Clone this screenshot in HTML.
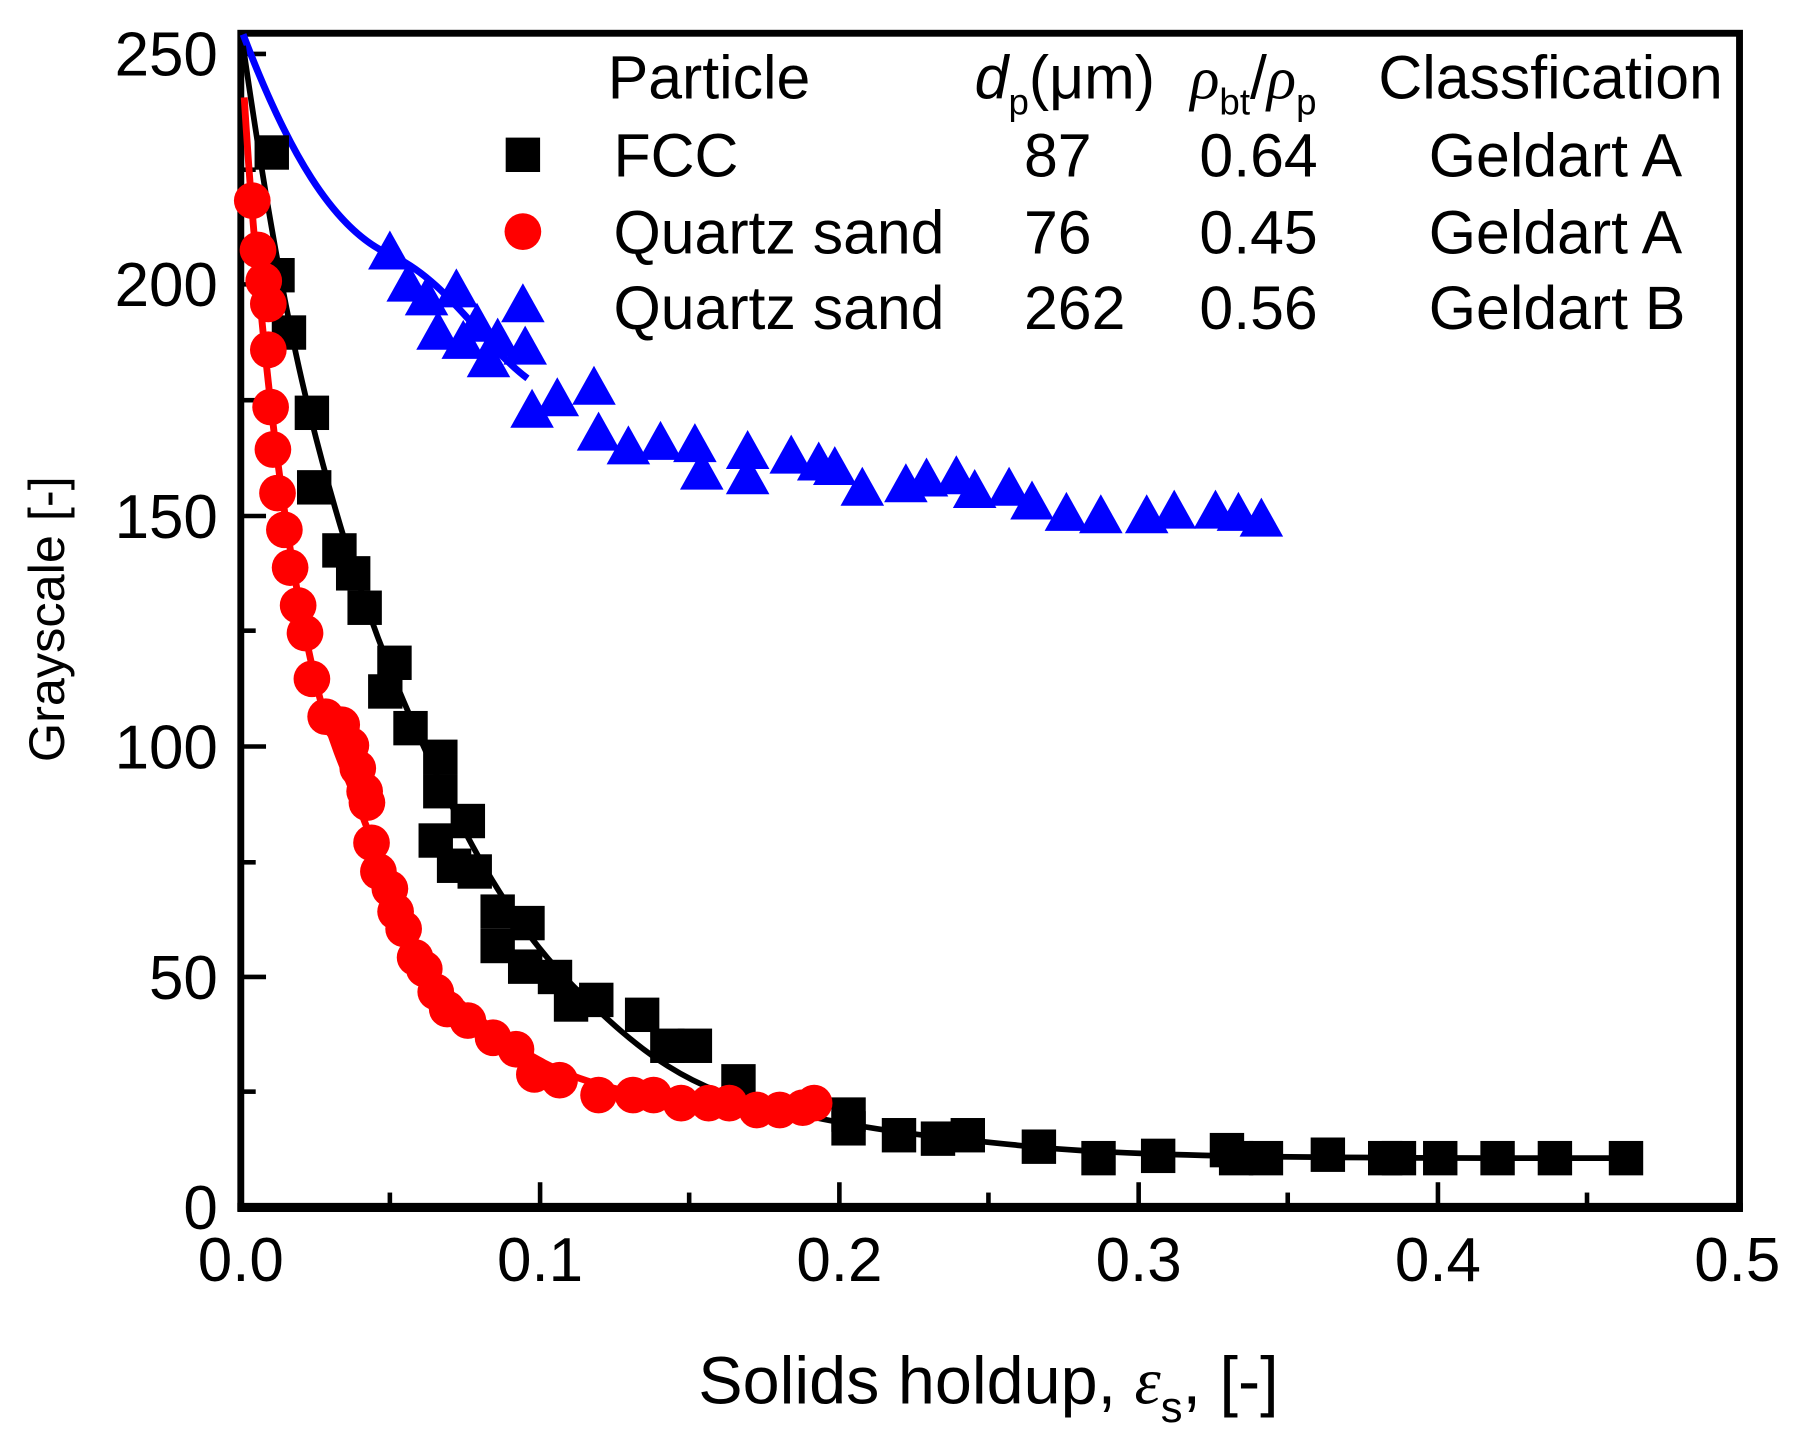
<!DOCTYPE html>
<html><head><meta charset="utf-8"><style>html,body{margin:0;padding:0;background:#fff}svg{display:block}</style></head><body>
<svg width="1798" height="1454" viewBox="0 0 1568 1268" xmlns="http://www.w3.org/2000/svg" font-family="Liberation Sans, sans-serif">
<defs>
<rect id="sq" x="-15" y="-15" width="30" height="30" fill="#000"/>
<circle id="ci" r="16" fill="#f00"/>
<polygon id="tr" points="0,-21 19,13 -19,13" fill="#00f"/>
</defs>
<rect x="210" y="29" width="1307" height="1024" fill="none" stroke="#000" stroke-width="6"/>
<line x1="207" y1="1053" x2="1520" y2="1053" stroke="#000" stroke-width="8"/>
<g stroke="#000" stroke-width="4">
<line x1="471" y1="1053" x2="471" y2="1031"/><line x1="732" y1="1053" x2="732" y2="1031"/><line x1="993" y1="1053" x2="993" y2="1031"/><line x1="1254" y1="1053" x2="1254" y2="1031"/>
<line x1="340" y1="1053" x2="340" y2="1040"/><line x1="601" y1="1053" x2="601" y2="1040"/><line x1="862" y1="1053" x2="862" y2="1040"/><line x1="1123" y1="1053" x2="1123" y2="1040"/><line x1="1384" y1="1053" x2="1384" y2="1040"/>
<line x1="210" y1="852" x2="232" y2="852"/><line x1="210" y1="651" x2="232" y2="651"/><line x1="210" y1="450" x2="232" y2="450"/><line x1="210" y1="248" x2="232" y2="248"/><line x1="210" y1="47" x2="232" y2="47"/>
<line x1="210" y1="952" x2="223" y2="952"/><line x1="210" y1="752" x2="223" y2="752"/><line x1="210" y1="550" x2="223" y2="550"/><line x1="210" y1="349" x2="223" y2="349"/><line x1="210" y1="148" x2="223" y2="148"/>
</g>
<g font-size="54" text-anchor="end">
<text x="190" y="1072">0</text><text x="190" y="871">50</text><text x="190" y="670">100</text><text x="190" y="469">150</text><text x="190" y="267">200</text><text x="190" y="66">250</text>
</g>
<g font-size="54" text-anchor="middle">
<text x="210" y="1117">0.0</text><text x="471" y="1117">0.1</text><text x="732" y="1117">0.2</text><text x="993" y="1117">0.3</text><text x="1254" y="1117">0.4</text><text x="1515" y="1117">0.5</text>
</g>
<text transform="translate(56,540) rotate(-90)" font-size="44" text-anchor="middle">Grayscale [-]</text>
<text x="862" y="1224" font-size="58" text-anchor="middle">Solids holdup, <tspan font-family="Liberation Serif, serif" font-style="italic">ε</tspan><tspan font-size="38" dy="16">s</tspan><tspan dy="-16">, [-]</tspan></text>
<path d="M212,30 C250,130 290,200 340,222 S420,300 460,330" fill="none" stroke="#00f" stroke-width="6"/>
<path d="M212,40 C225,130 245,260 270,360 S320,540 360,630 S440,800 500,860 S600,950 680,968 S800,990 900,1000 S1200,1010 1420,1010" fill="none" stroke="#000" stroke-width="5"/>
<path d="M213,85 C220,200 235,380 260,520 S300,660 330,750 S380,860 440,905 S560,960 700,966" fill="none" stroke="#f00" stroke-width="6"/>
<g>
<use href="#tr" x="340" y="222"/><use href="#tr" x="356" y="250"/><use href="#tr" x="372" y="262"/><use href="#tr" x="398" y="255"/><use href="#tr" x="382" y="292"/><use href="#tr" x="416" y="285"/><use href="#tr" x="404" y="300"/><use href="#tr" x="434" y="298"/><use href="#tr" x="426" y="316"/><use href="#tr" x="458" y="305"/><use href="#tr" x="464" y="360"/><use href="#tr" x="486" y="350"/><use href="#tr" x="518" y="340"/><use href="#tr" x="522" y="380"/><use href="#tr" x="548" y="392"/><use href="#tr" x="576" y="388"/><use href="#tr" x="606" y="390"/><use href="#tr" x="612" y="414"/><use href="#tr" x="652" y="396"/><use href="#tr" x="652" y="418"/><use href="#tr" x="690" y="400"/><use href="#tr" x="714" y="406"/><use href="#tr" x="728" y="410"/><use href="#tr" x="752" y="428"/><use href="#tr" x="790" y="425"/><use href="#tr" x="808" y="420"/><use href="#tr" x="834" y="418"/><use href="#tr" x="850" y="430"/><use href="#tr" x="880" y="428"/><use href="#tr" x="900" y="440"/><use href="#tr" x="930" y="450"/><use href="#tr" x="960" y="452"/><use href="#tr" x="1000" y="452"/><use href="#tr" x="1024" y="448"/><use href="#tr" x="1060" y="448"/><use href="#tr" x="1080" y="450"/><use href="#tr" x="1100" y="455"/>
</g>
<g>
<use href="#sq" x="237" y="133"/><use href="#sq" x="242" y="240"/><use href="#sq" x="252" y="290"/><use href="#sq" x="272" y="360"/><use href="#sq" x="274" y="425"/><use href="#sq" x="296" y="480"/><use href="#sq" x="308" y="500"/><use href="#sq" x="318" y="530"/><use href="#sq" x="344" y="578"/><use href="#sq" x="336" y="603"/><use href="#sq" x="358" y="635"/><use href="#sq" x="384" y="660"/><use href="#sq" x="384" y="690"/><use href="#sq" x="380" y="733"/><use href="#sq" x="408" y="716"/><use href="#sq" x="396" y="755"/><use href="#sq" x="414" y="760"/><use href="#sq" x="434" y="795"/><use href="#sq" x="434" y="825"/><use href="#sq" x="460" y="805"/><use href="#sq" x="458" y="843"/><use href="#sq" x="484" y="852"/><use href="#sq" x="498" y="876"/><use href="#sq" x="520" y="872"/><use href="#sq" x="560" y="885"/><use href="#sq" x="582" y="912"/><use href="#sq" x="606" y="912"/><use href="#sq" x="644" y="943"/><use href="#sq" x="740" y="972"/><use href="#sq" x="740" y="984"/><use href="#sq" x="784" y="990"/><use href="#sq" x="818" y="993"/><use href="#sq" x="844" y="990"/><use href="#sq" x="906" y="1000"/><use href="#sq" x="958" y="1010"/><use href="#sq" x="1010" y="1008"/><use href="#sq" x="1070" y="1003"/><use href="#sq" x="1078" y="1010"/><use href="#sq" x="1104" y="1010"/><use href="#sq" x="1158" y="1007"/><use href="#sq" x="1208" y="1010"/><use href="#sq" x="1220" y="1010"/><use href="#sq" x="1256" y="1010"/><use href="#sq" x="1306" y="1010"/><use href="#sq" x="1356" y="1010"/><use href="#sq" x="1418" y="1010"/>
</g>
<g>
<use href="#ci" x="220" y="175"/><use href="#ci" x="225" y="218"/><use href="#ci" x="230" y="245"/><use href="#ci" x="234" y="265"/><use href="#ci" x="234" y="305"/><use href="#ci" x="236" y="355"/><use href="#ci" x="238" y="392"/><use href="#ci" x="242" y="430"/><use href="#ci" x="248" y="462"/><use href="#ci" x="253" y="495"/><use href="#ci" x="260" y="528"/><use href="#ci" x="266" y="552"/><use href="#ci" x="272" y="592"/><use href="#ci" x="284" y="625"/><use href="#ci" x="298" y="632"/><use href="#ci" x="306" y="650"/><use href="#ci" x="312" y="670"/><use href="#ci" x="318" y="690"/><use href="#ci" x="320" y="700"/><use href="#ci" x="324" y="735"/><use href="#ci" x="330" y="760"/><use href="#ci" x="340" y="775"/><use href="#ci" x="345" y="795"/><use href="#ci" x="352" y="810"/><use href="#ci" x="362" y="835"/><use href="#ci" x="370" y="845"/><use href="#ci" x="380" y="865"/><use href="#ci" x="390" y="880"/><use href="#ci" x="408" y="890"/><use href="#ci" x="430" y="905"/><use href="#ci" x="450" y="915"/><use href="#ci" x="466" y="937"/><use href="#ci" x="488" y="942"/><use href="#ci" x="522" y="955"/><use href="#ci" x="552" y="955"/><use href="#ci" x="570" y="955"/><use href="#ci" x="594" y="962"/><use href="#ci" x="618" y="962"/><use href="#ci" x="636" y="962"/><use href="#ci" x="660" y="968"/><use href="#ci" x="680" y="968"/><use href="#ci" x="700" y="966"/><use href="#ci" x="710" y="962"/>
</g>
<g font-size="53">
<text x="530" y="86">Particle</text>
<text x="850" y="86"><tspan font-style="italic">d</tspan><tspan font-size="32" dy="14">p</tspan><tspan dy="-14">(μm)</tspan></text>
<text x="1038" y="86"><tspan font-family="Liberation Serif, serif" font-style="italic">ρ</tspan><tspan font-size="32" dy="14">bt</tspan><tspan dy="-14">/</tspan><tspan font-family="Liberation Serif, serif" font-style="italic">ρ</tspan><tspan font-size="32" dy="14">p</tspan></text>
<text x="1202" y="86">Classfication</text>
<text x="535" y="154">FCC</text><text x="893" y="154">87</text><text x="1046" y="154">0.64</text><text x="1246" y="154">Geldart A</text>
<text x="535" y="221">Quartz sand</text><text x="893" y="221">76</text><text x="1046" y="221">0.45</text><text x="1246" y="221">Geldart A</text>
<text x="535" y="287">Quartz sand</text><text x="893" y="287">262</text><text x="1046" y="287">0.56</text><text x="1246" y="287">Geldart B</text>
</g>
<use href="#sq" x="456" y="135"/>
<use href="#ci" x="456" y="202"/>
<use href="#tr" x="456" y="268"/>
</svg>
</body></html>
